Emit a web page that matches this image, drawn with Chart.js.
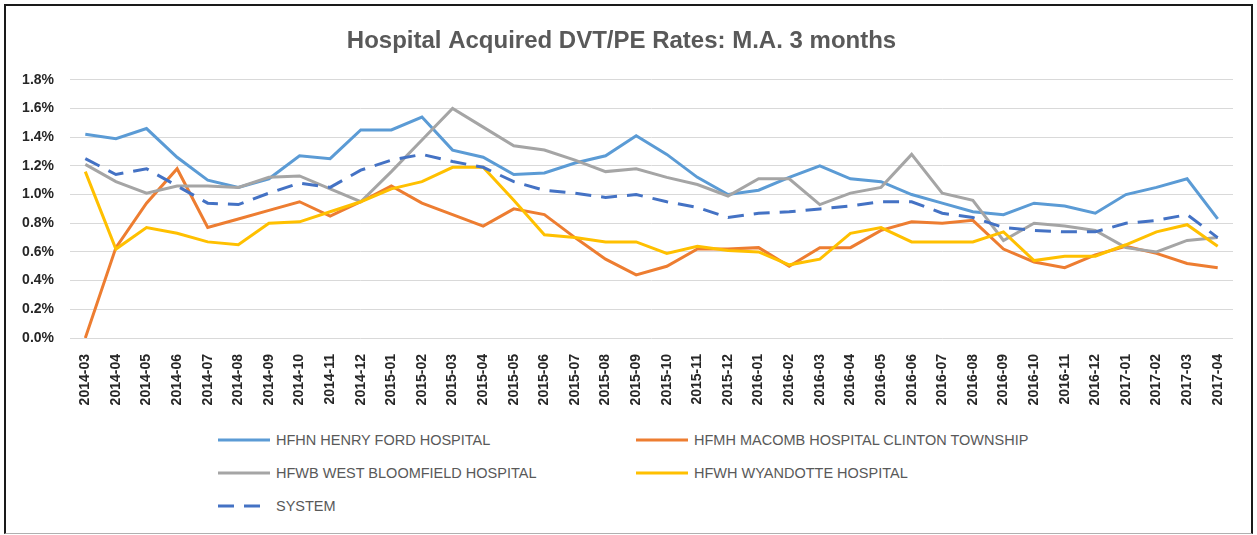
<!DOCTYPE html>
<html>
<head>
<meta charset="utf-8">
<script src="https://cdn.jsdelivr.net/npm/chart.js@4.4.1/dist/chart.umd.min.js"></script>
<style>
  body { margin: 0; background: #fff; }
  #frame {
    position: absolute; left: 4px; top: 4px; width: 1249px; height: 530px;
    box-sizing: border-box; border: 2px solid #1a1a1a; border-bottom: 1px solid #b0b0b0;
  }
  #chartBox { position: absolute; left: 0; top: 0; width: 1257px; height: 420px; }
  #legend { position: absolute; left: 0; top: 0; }
  .item {
    position: absolute; display: flex; align-items: center; height: 20px;
    font: 14.5px "Liberation Sans", Arial, sans-serif; color: #595959; white-space: nowrap;
  }
  .item svg { margin-right: 6px; }
</style>
</head>
<body>
<div id="frame"></div>
<div id="chartBox"><canvas id="chart"></canvas></div>
<div id="legend"></div>
<script>
const months = ['2014-03', '2014-04', '2014-05', '2014-06', '2014-07', '2014-08', '2014-09', '2014-10',
    '2014-11', '2014-12', '2015-01', '2015-02', '2015-03', '2015-04', '2015-05', '2015-06', '2015-07',
    '2015-08', '2015-09', '2015-10', '2015-11', '2015-12', '2016-01', '2016-02', '2016-03', '2016-04',
    '2016-05', '2016-06', '2016-07', '2016-08', '2016-09', '2016-10', '2016-11', '2016-12', '2017-01',
    '2017-02', '2017-03', '2017-04'];

// rates in percent
const hfhn = [1.42, 1.39, 1.46, 1.26, 1.10, 1.05, 1.11, 1.27, 1.25, 1.45, 1.45, 1.54,
    1.31, 1.26, 1.14, 1.15, 1.22, 1.27, 1.41, 1.28, 1.12, 1.00, 1.03, 1.12,
    1.20, 1.11, 1.09, 1.00, 0.94, 0.88, 0.86, 0.94, 0.92, 0.87, 1.00, 1.05, 1.11, 0.83];
const hfmh = [0.00, 0.63, 0.94, 1.18, 0.77, 0.83, 0.89, 0.95, 0.85, 0.95, 1.06, 0.94,
    0.86, 0.78, 0.90, 0.86, 0.70, 0.55, 0.44, 0.50, 0.62, 0.62, 0.63, 0.50,
    0.63, 0.63, 0.75, 0.81, 0.80, 0.82, 0.62, 0.53, 0.49, 0.58, 0.64, 0.59, 0.52, 0.49];
const hfwb = [1.21, 1.09, 1.01, 1.06, 1.06, 1.05, 1.12, 1.13, 1.04, 0.95, 1.16, 1.38,
    1.60, 1.47, 1.34, 1.31, 1.24, 1.16, 1.18, 1.12, 1.07, 0.99, 1.11, 1.11,
    0.93, 1.01, 1.05, 1.28, 1.01, 0.96, 0.68, 0.80, 0.78, 0.75, 0.63, 0.60, 0.68, 0.70];
const hfwh = [1.16, 0.62, 0.77, 0.73, 0.67, 0.65, 0.80, 0.81, 0.88, 0.95, 1.04, 1.09,
    1.19, 1.19, 0.96, 0.72, 0.70, 0.67, 0.67, 0.59, 0.64, 0.61, 0.60, 0.51,
    0.55, 0.73, 0.77, 0.67, 0.67, 0.67, 0.74, 0.54, 0.57, 0.57, 0.65, 0.74, 0.79, 0.64];
const system = [1.25, 1.14, 1.18, 1.06, 0.94, 0.93, 1.01, 1.08, 1.05, 1.17, 1.24, 1.28,
    1.23, 1.19, 1.09, 1.03, 1.01, 0.98, 1.00, 0.95, 0.91, 0.84, 0.87, 0.88,
    0.90, 0.92, 0.95, 0.95, 0.87, 0.84, 0.77, 0.75, 0.74, 0.74, 0.80, 0.82, 0.86, 0.70];

const yTicks = [0, 0.2, 0.4, 0.6, 0.8, 1.0, 1.2, 1.4, 1.6, 1.8];

const series = [
    { label: 'HFHN HENRY FORD HOSPITAL', data: hfhn, color: '#5B9BD5' },
    { label: 'HFMH MACOMB HOSPITAL CLINTON TOWNSHIP', data: hfmh, color: '#ED7D31' },
    { label: 'HFWB WEST BLOOMFIELD HOSPITAL', data: hfwb, color: '#A5A5A5' },
    { label: 'HFWH WYANDOTTE HOSPITAL', data: hfwh, color: '#FFC000' },
    { label: 'SYSTEM', data: system, color: '#4472C4', dash: [16, 10] }
];

const datasets = series.map((s, i) => ({
    label: s.label,
    data: s.data,
    borderColor: s.color,
    backgroundColor: s.color,
    borderWidth: 3,
    borderDash: s.dash || [],
    pointRadius: 0,
    tension: 0,
    fill: false,
    order: series.length - i   // later series on top, like Excel
}));

const fontFamily = '"Liberation Sans", Arial, sans-serif';

new Chart(document.getElementById('chart'), {
    type: 'line',
    data: { labels: months, datasets },
    options: {
        responsive: true,
        maintainAspectRatio: false,
        animation: false,
        layout: { padding: { left: 10, right: 24, top: 0, bottom: 0 } },
        plugins: {
            legend: { display: false },
            tooltip: { enabled: false },
            title: {
                display: true,
                text: 'Hospital Acquired DVT/PE Rates: M.A. 3 months',
                color: '#595959',
                font: { family: fontFamily, size: 24, weight: 'bold' },
                padding: { top: 27, bottom: 24 }
            }
        },
        scales: {
            x: {
                offset: true,
                grid: { display: false },
                border: { display: false },
                ticks: {
                    color: '#262626', font: { family: fontFamily, size: 14, weight: 'bold' },
                    minRotation: 90, maxRotation: 90, autoSkip: false, padding: 8
                },
                afterFit: scale => { scale.height = 82; }
            },
            y: {
                min: 0,
                max: 1.8,
                afterBuildTicks: scale => { scale.ticks = yTicks.map(v => ({ value: v })); },
                grid: { color: '#D9D9D9', lineWidth: 1, drawTicks: false },
                border: { display: false },
                ticks: {
                    color: '#262626', font: { family: fontFamily, size: 14, weight: 'bold' }, padding: 16,
                    callback: value => value.toFixed(1) + '%'
                },
                afterFit: scale => { scale.width = 60; }
            }
        }
    }
});

// legend: two columns, like the original
const legend = document.getElementById('legend');
const colX = [218, 636];
series.forEach((s, i) => {
    const item = document.createElement('div');
    item.className = 'item';
    item.style.left = colX[i % 2] + 'px';
    item.style.top = (430 + Math.floor(i / 2) * 33) + 'px';
    const dash = s.dash ? ` stroke-dasharray="${s.dash.join(' ')}"` : '';
    item.innerHTML = `<svg width="52" height="6"><line x1="0" y1="3" x2="52" y2="3" stroke="${s.color}" stroke-width="3"${dash}/></svg><span>${s.label}</span>`;
    legend.appendChild(item);
});
</script>
</body>
</html>
